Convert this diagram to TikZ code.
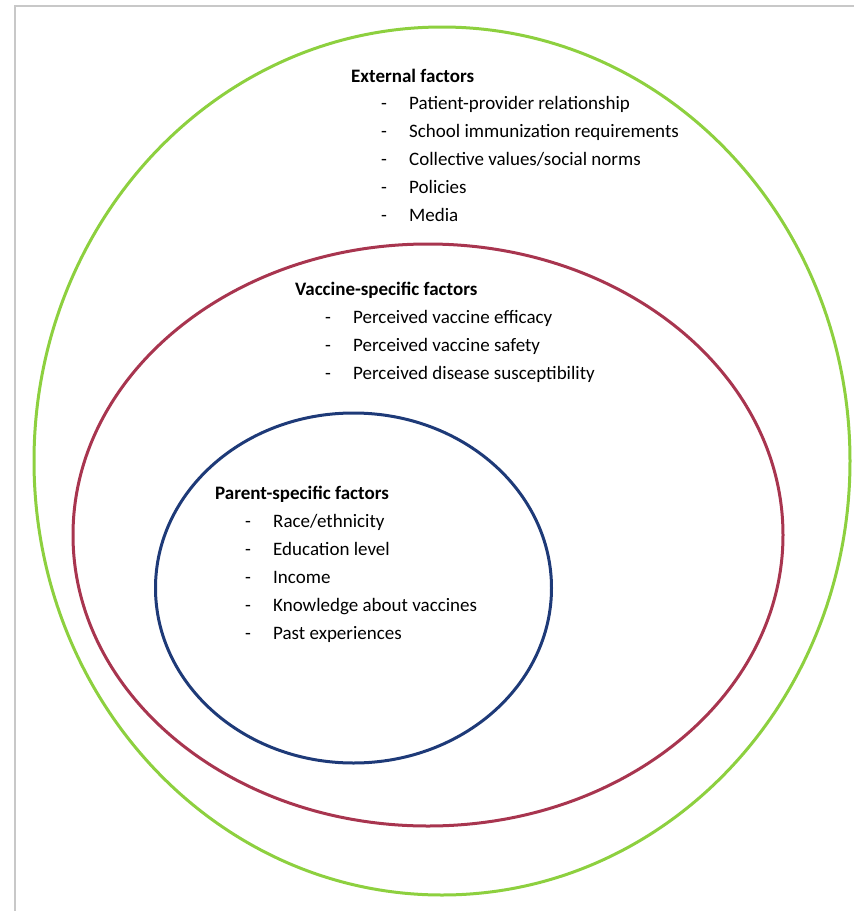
\documentclass[tikz,border=0pt]{standalone}
\usepackage{fontspec}
\setmainfont{Carlito}
\definecolor{outergreen}{HTML}{8DD03F}
\definecolor{midred}{HTML}{A8354F}
\definecolor{innerblue}{HTML}{1E3A78}
\definecolor{framegray}{HTML}{C8C8C8}
\tikzset{
  ring/.style={line width=3pt},
  head/.style={anchor=base west, inner sep=0pt, font=\fontsize{19}{23}\selectfont\bfseries, text=black},
  itemtext/.style={anchor=base west, inner sep=0pt, font=\fontsize{19}{23}\selectfont, text=black},
  dashmark/.style={anchor=base west, inner sep=0pt, font=\fontsize{19}{23}\selectfont, text=black},
}
\begin{document}
\begin{tikzpicture}[x=1pt, y=-1pt]
\useasboundingbox (0,0) rectangle (854,911);
\draw[framegray, line width=1.3pt] (15,911) -- (15,6) -- (854,6);
% ellipses
\draw[ring, outergreen] (442,461) ellipse [x radius=408pt, y radius=434pt];
\draw[ring, midred] (428,535) ellipse [x radius=355pt, y radius=291pt];
\draw[ring, innerblue] (353.5,588) ellipse [x radius=198pt, y radius=175pt];
% External factors
\node[head] (exth) at (351,82) {External factors};
\node[dashmark] (extd1) at (381,109) {-}; \node[itemtext] (exti1) at (409,109) {Patient-provider relationship};
\node[dashmark] (extd2) at (381,137) {-}; \node[itemtext] (exti2) at (409,137) {School immunization requirements};
\node[dashmark] (extd3) at (381,165) {-}; \node[itemtext] (exti3) at (409,165) {Collective values/social norms};
\node[dashmark] (extd4) at (381,193) {-}; \node[itemtext] (exti4) at (409,193) {Policies};
\node[dashmark] (extd5) at (381,221) {-}; \node[itemtext] (exti5) at (409,221) {Media};
% Vaccine-specific factors
\node[head] (vach) at (295,295) {Vaccine-specific factors};
\node[dashmark] (vacd1) at (325,323) {-}; \node[itemtext] (vaci1) at (353,323) {Perceived vaccine efficacy};
\node[dashmark] (vacd2) at (325,351) {-}; \node[itemtext] (vaci2) at (353,351) {Perceived vaccine safety};
\node[dashmark] (vacd3) at (325,379) {-}; \node[itemtext] (vaci3) at (353,379) {Perceived disease susceptibility};
% Parent-specific factors
\node[head] (parh) at (215,499) {Parent-specific factors};
\node[dashmark] (pard1) at (245,527) {-}; \node[itemtext] (pari1) at (273,527) {Race/ethnicity};
\node[dashmark] (pard2) at (245,555) {-}; \node[itemtext] (pari2) at (273,555) {Education level};
\node[dashmark] (pard3) at (245,583) {-}; \node[itemtext] (pari3) at (273,583) {Income};
\node[dashmark] (pard4) at (245,611) {-}; \node[itemtext] (pari4) at (273,611) {Knowledge about vaccines};
\node[dashmark] (pard5) at (245,639) {-}; \node[itemtext] (pari5) at (273,639) {Past experiences};
\end{tikzpicture}
\end{document}
